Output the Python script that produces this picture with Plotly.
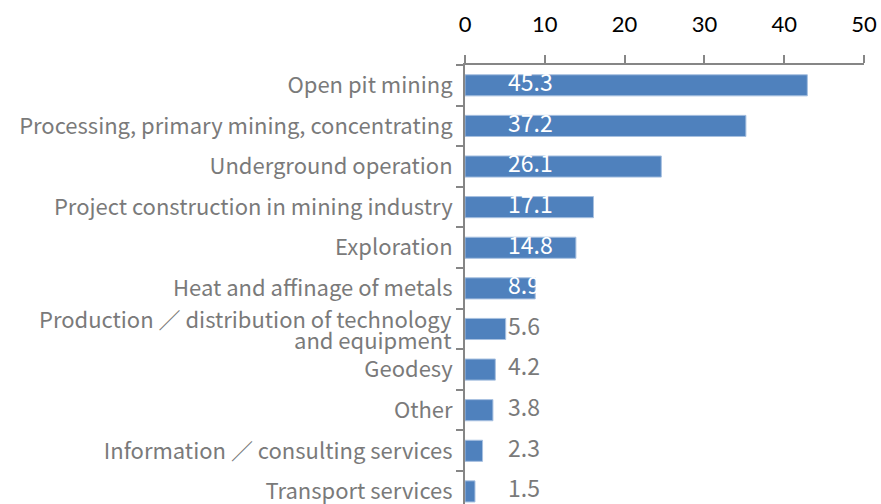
import plotly.graph_objects as go

# categories top to bottom
categories = [
    "Open pit mining",
    "Processing, primary mining, concentrating",
    "Underground operation",
    "Project construction in mining industry",
    "Exploration",
    "Heat and affinage of metals",
    "Production ／ distribution of technology<br>and equipment",
    "Geodesy",
    "Other",
    "Information ／ consulting services",
    "Transport services",
]
# bar lengths as drawn against the axis
bar_values = [42.9, 35.2, 24.6, 16.1, 13.9, 8.8, 5.1, 3.8, 3.5, 2.2, 1.25]
# printed value labels
value_labels = ["45.3", "37.2", "26.1", "17.1", "14.8", "8.9", "5.6", "4.2", "3.8", "2.3", "1.5"]
x_ticks = [0, 10, 20, 30, 40, 50]

BAR_COLOR = "#4F81BD"
GREY = "#7A7A7A"
LABEL_X = 5.4  # labels start at a fixed spot on the axis
CAT_FONT = dict(family="Noto Sans CJK JP", size=22, color=GREY)

label_colors = ["white" if v > LABEL_X + 2 else GREY for v in bar_values]
# two-line labels are drawn as annotations so the lines sit closer together
tick_text = ["" if "<br>" in c else c for c in categories]

fig = go.Figure()
fig.add_trace(go.Bar(
    x=bar_values, y=categories, orientation="h",
    marker=dict(color=BAR_COLOR, line=dict(color="#A7C0E0", width=1)),
    width=0.52, hoverinfo="skip",
))
fig.add_trace(go.Scatter(
    x=[LABEL_X] * len(categories), y=categories,
    mode="text", text=value_labels, textposition="middle right",
    textfont=dict(family="Noto Sans CJK JP", size=23, color=label_colors),
    cliponaxis=False, hoverinfo="skip",
))

for c in categories:
    if "<br>" in c:
        lines = c.split("<br>")
        for i, line in enumerate(lines):
            fig.add_annotation(
                x=0, xref="paper", y=c, yref="y", text=line, showarrow=False,
                xanchor="right", yanchor="middle", xshift=-11,
                yshift=(len(lines) - 1) * 10.5 - i * 21,
                font=CAT_FONT,
            )

fig.update_layout(
    width=881, height=504,
    margin=dict(l=465, r=17, t=65, b=0),
    paper_bgcolor="white", plot_bgcolor="white",
    showlegend=False,
    xaxis=dict(
        side="top", range=[0, 50], tickvals=x_ticks, automargin=False,
        showgrid=False, zeroline=False,
        showline=True, linecolor="#868686", linewidth=1.5,
        ticks="outside", ticklen=8, tickcolor="#868686", tickwidth=1.5,
        ticklabelstandoff=14,
        tickfont=dict(family="Lato", size=22, color="black"),
    ),
    yaxis=dict(
        type="category", range=[10.31, -0.5], automargin=False,
        tickvals=categories, ticktext=tick_text,
        showgrid=False, zeroline=False,
        showline=True, linecolor="#868686", linewidth=2,
        ticks="outside", ticklen=7, tickcolor="#868686", tickwidth=1.5,
        tickson="boundaries", ticklabelstandoff=6,
        tickfont=CAT_FONT,
    ),
)

# drop the default page margin so the figure fills the window exactly
fig.write_html(
    "out.html",
    config={"displayModeBar": False},
    post_script="document.body.style.margin='0';document.body.style.overflow='hidden';",
)
